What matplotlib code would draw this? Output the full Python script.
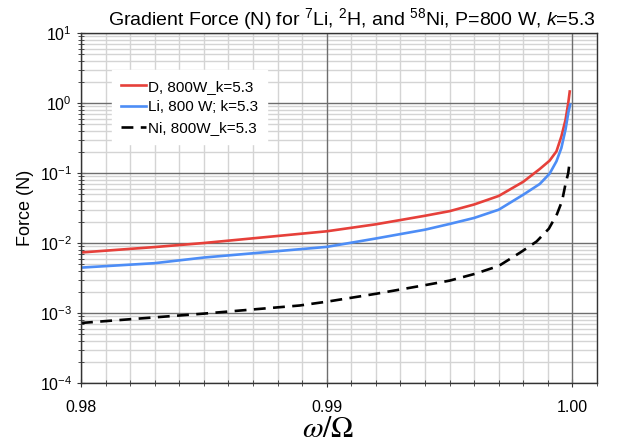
import numpy as np
import matplotlib
matplotlib.use("Agg")
import matplotlib.pyplot as plt
from matplotlib.ticker import FixedLocator, LogLocator, NullFormatter, FixedFormatter

plt.rcParams['font.family'] = ['Liberation Sans', 'DejaVu Sans']
plt.rcParams['mathtext.fontset'] = 'custom'
plt.rcParams['mathtext.rm'] = 'Liberation Sans'
plt.rcParams['mathtext.it'] = 'Liberation Sans:italic'

# Gradient force vs. normalised frequency
d_x = [0.9800, 0.9830, 0.9850, 0.9900, 0.9920, 0.9940, 0.9950, 0.9960, 0.9970,
       0.9980, 0.99867, 0.99907, 0.99935, 0.99955, 0.99972, 0.99983, 0.99989]
d_f = [0.00732, 0.00875, 0.0100, 0.0147, 0.0185, 0.0245, 0.0285, 0.0355, 0.047,
       0.075, 0.114, 0.150, 0.204, 0.333, 0.577, 1.0, 1.46]

li_x = [0.9800, 0.9830, 0.9850, 0.9900, 0.9920, 0.9940, 0.9950, 0.9960, 0.9970,
        0.9980, 0.99867, 0.99907, 0.99935, 0.99955, 0.99972, 0.99984, 0.99991]
li_f = [0.00445, 0.00515, 0.0062, 0.0088, 0.0116, 0.0155, 0.0187, 0.0228, 0.0299,
        0.049, 0.0697, 0.0977, 0.147, 0.228, 0.42, 0.75, 0.95]

ni_x = [0.9800, 0.9850, 0.9889, 0.9900, 0.9920, 0.9940, 0.9950, 0.9960, 0.9970,
        0.9979, 0.99854, 0.99904, 0.99937, 0.99958, 0.99972, 0.99983, 0.99989]
ni_f = [0.00072, 0.00098, 0.00128, 0.00145, 0.00188, 0.00250, 0.0029, 0.0036, 0.0047,
        0.0074, 0.0105, 0.016, 0.0258, 0.040, 0.070, 0.100, 0.147]

labels = ["D, 800W_k=5.3", "Li, 800 W; k=5.3", "Ni, 800W_k=5.3"]
x_ticks = [0.98, 0.99, 1.00]
x_tick_labels = ["0.98", "0.99", "1.00"]
y_decades = [1e-4, 1e-3, 1e-2, 1e-1, 1e0, 1e1]

fig = plt.figure(figsize=(6.17, 4.44), dpi=100)
ax = fig.add_axes([81/617, 1-383/444, (597-81)/617, (383-33)/444])

ax.plot(d_x, d_f, color='#e6403a', lw=1.9, label=labels[0], zorder=4)
ax.plot(li_x, li_f, color='#4d8df6', lw=1.9, label=labels[1], zorder=4)
ax.plot(ni_x, ni_f, color='black', lw=1.9, ls=(0, (4.5, 2.8)), label=labels[2], zorder=4)

ax.set_yscale('log')
ax.set_xlim(0.98, 1.001)
ax.set_ylim(1e-4, 1e1)

minor_x = [v for v in np.round(np.arange(0.98, 1.0011, 0.001), 4)
           if not any(abs(v - t) < 1e-6 for t in x_ticks)]
ax.xaxis.set_major_locator(FixedLocator(x_ticks))
ax.xaxis.set_major_formatter(FixedFormatter(x_tick_labels))
ax.xaxis.set_minor_locator(FixedLocator(minor_x))
ax.yaxis.set_major_locator(FixedLocator(y_decades))
ax.yaxis.set_minor_locator(LogLocator(base=10, subs=np.arange(2, 10), numticks=20))
ax.yaxis.set_minor_formatter(NullFormatter())

# light minor grid from the axis; darker major lines drawn on top of it
ax.grid(which='minor', color='#d4d4d4', lw=1.0, ls='-')
ax.set_axisbelow(True)
for xv in x_ticks:
    ax.axvline(xv, color='#6e6e6e', lw=1.0, zorder=1)
for yv in y_decades:
    ax.axhline(yv, color='#6e6e6e', lw=1.0, zorder=1)

ax.tick_params(which='both', direction='inout', labelsize=11.5, color='#333333')
ax.tick_params(which='major', length=6)
ax.tick_params(which='minor', length=4)
ax.tick_params(axis='x', pad=9)
for s in ax.spines.values():
    s.set_color('#333333')
    s.set_linewidth(1.0)
    s.set_zorder(5)

fig.text(352/617, 1-25/444,
         r"Gradient Force (N) for $^{7}$Li, $^{2}$H, and $^{58}$Ni, P=800 W, $k$=5.3",
         fontsize=14, ha='center', va='baseline')
ax.set_ylabel("Force (N)", fontsize=13, labelpad=4)
ax.set_xlabel(r"$\omega/\Omega$", fontsize=21.5, math_fontfamily='stix')
ax.xaxis.set_label_coords((328-81)/(597-81), -(437-383)/350, transform=ax.transAxes)
ax.xaxis.label.set_va('baseline')

leg = ax.legend(loc='upper left', bbox_to_anchor=(0.045, 0.915), fontsize=11,
                frameon=True, fancybox=False, edgecolor='white', framealpha=1,
                handlelength=1.65, handletextpad=0.1, labelspacing=0.45, borderpad=0.6)
leg.set_zorder(6)

fig.savefig("out.png", dpi=100)
